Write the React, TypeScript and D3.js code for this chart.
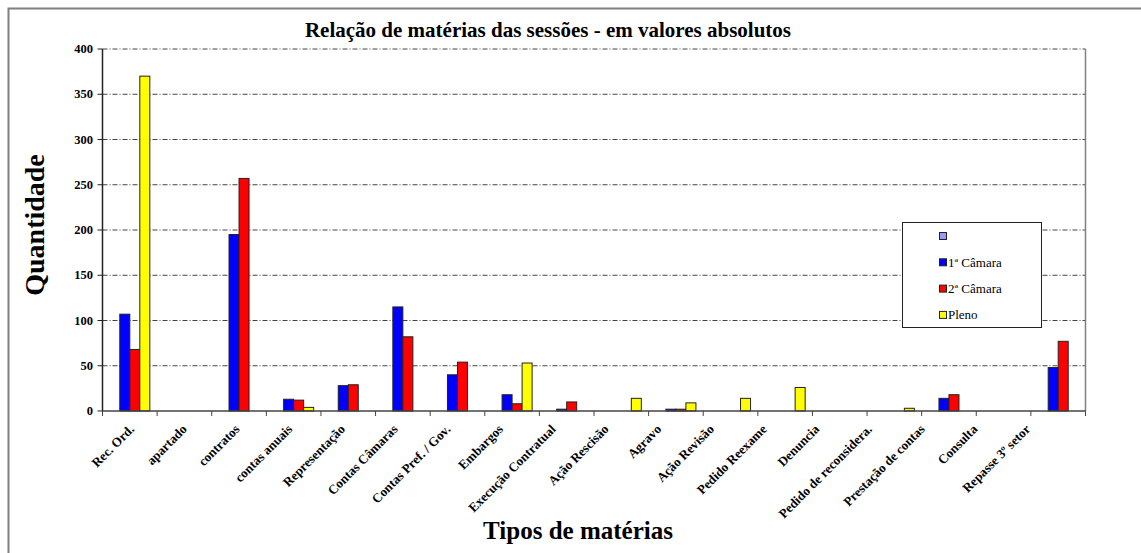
import React from 'react';
import * as d3 from 'd3';

const categories = [
  'Rec. Ord.', 'apartado', 'contratos', 'contas anuais', 'Representação',
  'Contas Câmaras', 'Contas Pref. / Gov.', 'Embargos', 'Execução Contratual',
  'Ação Rescisão', 'Agravo', 'Ação Revisão', 'Pedido Reexame', 'Denuncia',
  'Pedido de reconsidera.', 'Prestação de contas', 'Consulta', 'Repasse 3º setor',
];

const seriesNames = ['', '1ª Câmara', '2ª Câmara', 'Pleno'];
const seriesColors = ['#9999FF', '#0000FF', '#FF0000', '#FFFF00'];

const blankValues = [0, 0, 0, 0, 0, 0, 0, 0, 0, 0, 0, 0, 0, 0, 0, 0, 0, 0];
const camara1Values = [107, 0, 195, 13, 28, 115, 40, 18, 2, 0, 2, 0, 0, 0, 0, 14, 0, 48];
const camara2Values = [68, 0, 257, 12, 29, 82, 54, 8, 10, 0, 2, 0, 0, 0, 0, 18, 0, 77];
const plenoValues = [370, 0, 0, 4, 0, 0, 0, 53, 0, 14, 9, 14, 26, 0, 3, 0, 0, 0];

const yTicks = [0, 50, 100, 150, 200, 250, 300, 350, 400];

const W = 1141;
const H = 553;
const plot = { left: 102.5, right: 1085.5, top: 49, bottom: 411 };
const serif = '"Liberation Serif", "Times New Roman", Times, serif';

export default function App() {
  const allSeries = [blankValues, camara1Values, camara2Values, plenoValues];

  const x = d3.scaleBand<string>()
    .domain(categories)
    .range([plot.left, plot.right])
    .padding(0);

  const bw = x.bandwidth();
  const groupWidth = bw * 0.733;

  const xInner = d3.scaleBand<string>()
    .domain(seriesNames.map((_, i) => String(i)))
    .range([0, groupWidth])
    .padding(0);

  // category labels are laid out a bit tighter than the bars, as in the source chart
  const xLabel = d3.scalePoint<string>().domain(categories).range([135, 1031]);

  const y = d3.scaleLinear().domain([0, 400]).range([plot.bottom, plot.top]);

  return (
    <div style={{ position: 'absolute', left: 0, top: 0 }}>
      <svg width={W} height={H} style={{ display: 'block' }} fontFamily={serif}>
        <rect x={0} y={0} width={W} height={H} fill="#fff" />
        <rect x={8.5} y={8.5} width={1200} height={700} fill="none" stroke="#808080" strokeWidth={2} />

        <text x={548} y={37} textAnchor="middle" fontSize={21} fontWeight="bold" fontFamily={serif}>
          Relação de matérias das sessões - em valores absolutos
        </text>

        {/* grid */}
        {yTicks.filter((t) => t > 0).map((t) => (
          <line key={t} x1={plot.left} x2={plot.right} y1={y(t)} y2={y(t)}
            stroke="#444" strokeWidth={1} strokeDasharray="5,2,1,2" />
        ))}
        <line x1={plot.right} x2={plot.right} y1={plot.top} y2={plot.bottom} stroke="#808080" strokeWidth={1.5} />

        {/* bars */}
        {allSeries.map((vals, si) =>
          vals.map((v, ci) => {
            if (v <= 0) return null;
            const bx = x(categories[ci])! + (bw - groupWidth) / 2 + xInner(String(si))!;
            return (
              <rect key={`${si}-${ci}`} x={bx} y={y(v)} width={xInner.bandwidth()}
                height={y(0) - y(v)} fill={seriesColors[si]} stroke="#222" strokeWidth={1} />
            );
          })
        )}

        {/* axes */}
        <line x1={plot.left} x2={plot.left} y1={plot.top} y2={plot.bottom} stroke="#222" strokeWidth={1.5} />
        <line x1={plot.left} x2={plot.right} y1={plot.bottom} y2={plot.bottom} stroke="#444" strokeWidth={1.5} />
        {yTicks.map((t) => (
          <g key={t}>
            <line x1={plot.left - 5} x2={plot.left} y1={y(t)} y2={y(t)} stroke="#222" />
            <text x={93} y={y(t) + 4} textAnchor="end" fontSize={12.5} fontWeight="bold" fontFamily={serif}>{t}</text>
          </g>
        ))}
        {categories.map((c) => (
          <line key={c} x1={x(c)! + bw} x2={x(c)! + bw} y1={plot.bottom} y2={plot.bottom + 5} stroke="#444" />
        ))}
        <line x1={plot.left} x2={plot.left} y1={plot.bottom} y2={plot.bottom + 5} stroke="#444" />
        {categories.map((c) => {
          const cx = xLabel(c)!;
          const cy = plot.bottom + 19;
          return (
            <text key={c} x={cx} y={cy} textAnchor="end" fontSize={13} fontWeight="bold" fontFamily={serif}
              transform={`rotate(-45 ${cx} ${cy})`}>{c}</text>
          );
        })}

        <text x={578} y={539} textAnchor="middle" fontSize={25} fontWeight="bold" fontFamily={serif}>Tipos de matérias</text>
        <text transform="translate(44 225) rotate(-90)" textAnchor="middle" fontSize={28} fontWeight="bold" fontFamily={serif}>Quantidade</text>

        {/* legend */}
        <rect x={902.5} y={222.5} width={139} height={105} fill="#fff" stroke="#222" strokeWidth={1} />
        {seriesNames.map((n, i) => {
          const ly = 236 + i * 26.3;
          return (
            <g key={i}>
              <rect x={939.5} y={ly - 3.5} width={7} height={7} fill={seriesColors[i]} stroke="#222" strokeWidth={1} />
              <text x={948} y={ly + 4.5} fontSize={13} fontFamily={serif}>{n}</text>
            </g>
          );
        })}
      </svg>
    </div>
  );
}
